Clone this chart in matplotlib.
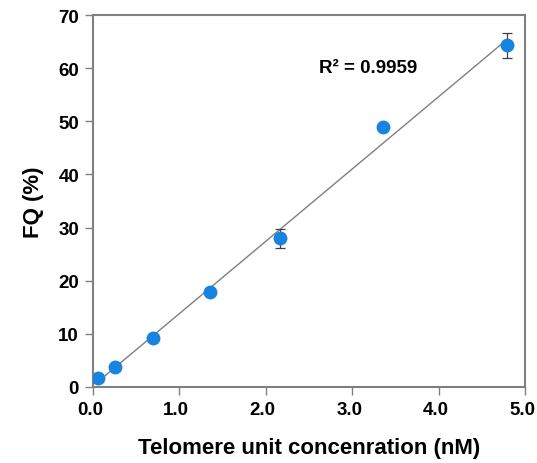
import numpy as np
import matplotlib
matplotlib.use("Agg")
import matplotlib.pyplot as plt
import matplotlib.transforms as mtransforms

plt.rcParams['font.family'] = ['Liberation Sans', 'DejaVu Sans']

conc = [0.06, 0.255, 0.69, 1.355, 2.165, 3.36, 4.795]
fq = [1.7, 3.8, 9.2, 17.9, 28.0, 49.0, 64.3]
fq_err = [0.4, 0.4, 0.5, 0.5, 1.8, 0.5, 2.4]
xticks = [0.0, 1.0, 2.0, 3.0, 4.0, 5.0]
yticks = [0, 10, 20, 30, 40, 50, 60, 70]
r2_text = "R² = 0.9959"

fig = plt.figure(figsize=(5.37, 4.64), dpi=100)
ax = fig.add_axes([0.173, 0.164, 0.805, 0.8015])

slope, intercept = np.polyfit(conc, fq, 1)
xf = np.array([conc[0], conc[-1]])
ax.plot(xf, slope * xf + intercept, color='#7f7f7f', lw=1.0, zorder=1)

ax.errorbar(conc, fq, yerr=fq_err, fmt='none', ecolor='#404040', elinewidth=0.9,
            capsize=3.5, capthick=0.9, zorder=2)
ax.plot(conc, fq, 'o', color='#1784e0', markersize=10, markeredgewidth=0, zorder=3)

ax.set_xlim(0, 5)
ax.set_ylim(0, 70)
ax.set_xticks(xticks)
ax.set_xticklabels([f"{t:.1f}" for t in xticks])
ax.set_yticks(yticks)
for s in ax.spines.values():
    s.set_color('#808080')
    s.set_linewidth(1.5)
ax.tick_params(direction='out', length=6, width=1.0, color='#808080',
               labelsize=13.5, pad=4)
offset = mtransforms.ScaledTranslation(-3 / 100, 0, fig.dpi_scale_trans)
for lab in ax.get_xticklabels():
    lab.set_fontweight('bold')
    lab.set_transform(lab.get_transform() + offset)
for lab in ax.get_yticklabels():
    lab.set_fontweight('bold')

ax.set_xlabel("Telomere unit concenration (nM)", fontsize=16, fontweight='bold', labelpad=14)
ax.set_ylabel("FQ (%)", fontsize=16, fontweight='bold', labelpad=10)

ax.text(2.62, 60.2, r2_text, fontsize=13.5, fontweight='bold', ha='left', va='center')

fig.savefig("out.png", dpi=100)
